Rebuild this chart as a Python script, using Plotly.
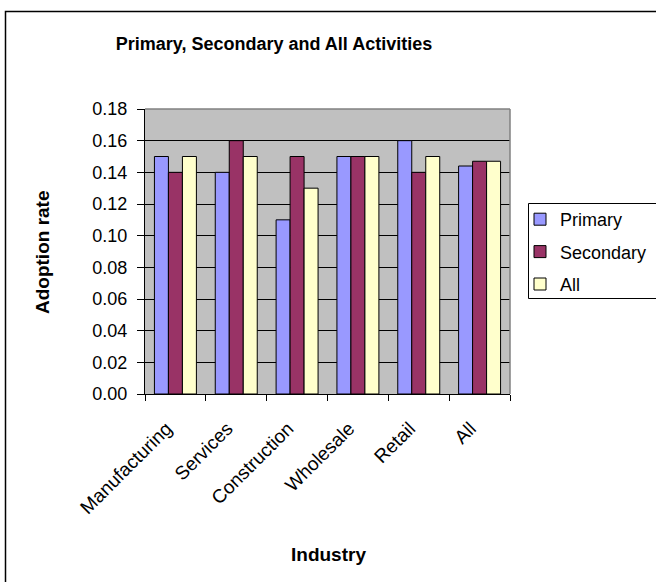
import plotly.graph_objects as go

# Adoption rates by industry for primary, secondary and all activities
industries = ["Manufacturing", "Services", "Construction", "Wholesale", "Retail", "All"]
primary = [0.15, 0.14, 0.11, 0.15, 0.16, 0.144]
secondary = [0.14, 0.16, 0.15, 0.15, 0.14, 0.147]
all_activities = [0.15, 0.15, 0.13, 0.15, 0.15, 0.147]
y_ticks = [0.00, 0.02, 0.04, 0.06, 0.08, 0.10, 0.12, 0.14, 0.16, 0.18]

FONT = "Liberation Sans, Arial, sans-serif"
W, H = 656, 582
L, R, T, B = 145, 510, 109, 394  # plot area in pixels

def px_x(px):
    return (px - L) / (R - L)

def px_y(py):
    return (B - py) / (B - T)

fig = go.Figure()
series = [
    ("Primary", primary, "#9999FF"),
    ("Secondary", secondary, "#993366"),
    ("All", all_activities, "#FFFFCC"),
]
for name, vals, color in series:
    fig.add_trace(go.Bar(
        x=industries, y=vals, name=name, legendgroup=name,
        marker=dict(color=color, line=dict(color="black", width=1)),
    ))

fig.update_layout(
    width=W, height=H, autosize=False,
    margin=dict(l=L, r=W - R, t=T, b=H - B, pad=0, autoexpand=False),
    paper_bgcolor="white", plot_bgcolor="#C0C0C0",
    barmode="group", bargap=0.31, bargroupgap=0,
    font=dict(family=FONT, size=16, color="black"),
    showlegend=True,
    legend=dict(
        x=px_x(520), y=px_y(201), xanchor="left", yanchor="top",
        xref="paper", yref="paper",
        bgcolor="rgba(0,0,0,0)", borderwidth=0,
        font=dict(family=FONT, size=18, color="black"),
        tracegroupgap=6,
    ),
    title=dict(
        text="<b>Primary, Secondary and All Activities</b>",
        x=px_x(274), xref="paper", xanchor="center",
        y=1 - 44 / H, yref="container", yanchor="middle",
        font=dict(family=FONT, size=18, color="black"),
    ),
)

fig.update_xaxes(
    showline=True, linecolor="black", linewidth=1,
    ticks="outside", tickson="boundaries", ticklen=6, tickcolor="black",
    tickangle=-45, ticklabelstandoff=15, ticklabelshift=-9,
    tickfont=dict(family=FONT, size=19, color="black"),
    showgrid=False, automargin=False,
)
fig.update_yaxes(
    range=[0, 0.18], tickvals=y_ticks, tickformat=".2f",
    showline=True, linecolor="black", linewidth=1,
    ticks="outside", ticklen=7, tickcolor="black", ticklabelstandoff=6,
    showgrid=True, gridcolor="black", gridwidth=1,
    zeroline=False, automargin=False,
    tickfont=dict(family=FONT, size=18, color="black"),
)

# Axis titles
fig.add_annotation(
    text="<b>Adoption rate</b>", textangle=-90,
    x=px_x(42), y=px_y(252), xref="paper", yref="paper",
    xanchor="center", yanchor="middle", showarrow=False,
    font=dict(family=FONT, size=19, color="black"),
)
fig.add_annotation(
    text="<b>Industry</b>",
    x=px_x(328), y=px_y(554), xref="paper", yref="paper",
    xanchor="center", yanchor="middle", showarrow=False,
    font=dict(family=FONT, size=19, color="black"),
)

# Grey plot-area border on the top and right edges
fig.add_shape(type="line", xref="paper", yref="paper", x0=0, y0=1, x1=1, y1=1,
              line=dict(color="#808080", width=1.5), layer="above")
fig.add_shape(type="line", xref="paper", yref="paper", x0=1, y0=0, x1=1, y1=1,
              line=dict(color="#808080", width=1.5), layer="above")
# Legend box and outer chart frame
fig.add_shape(type="rect", xref="paper", yref="paper",
              x0=px_x(528.5), y0=px_y(298.5), x1=px_x(670), y1=px_y(203.5),
              fillcolor="white", line=dict(color="black", width=1))
fig.add_shape(type="rect", xref="paper", yref="paper",
              x0=px_x(5.5), y0=px_y(590), x1=px_x(670), y1=px_y(11.5),
              line=dict(color="black", width=1.5))

fig.write_html("out.html")
